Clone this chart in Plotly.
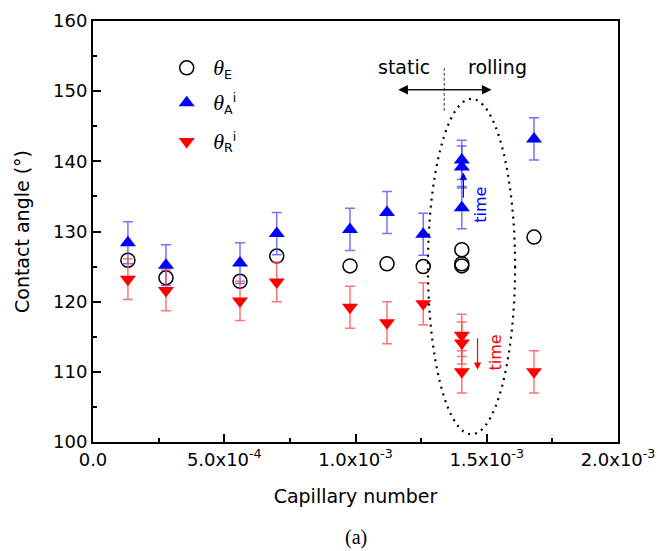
import plotly.graph_objects as go

# ---- data ----
ca_E = [1.33e-4, 2.78e-4, 5.6e-4, 7.0e-4, 9.79e-4, 1.12e-3, 1.258e-3, 1.405e-3, 1.405e-3, 1.405e-3, 1.68e-3]
theta_E = [125.9, 123.4, 122.9, 126.5, 125.1, 125.4, 125.0, 127.4, 125.4, 125.1, 129.2]

ca_A = [1.33e-4, 2.78e-4, 5.6e-4, 7.0e-4, 9.79e-4, 1.12e-3, 1.258e-3, 1.405e-3, 1.405e-3, 1.405e-3, 1.68e-3]
theta_A = [128.4, 125.2, 125.5, 129.7, 130.3, 132.7, 129.6, 140.2, 139.2, 133.4, 143.2]
err_A = [3.0, 2.9, 2.9, 3.0, 3.0, 3.0, 3.0, 2.8, 3.0, 3.0, 3.0]

ca_R = [1.33e-4, 2.78e-4, 5.6e-4, 7.0e-4, 9.79e-4, 1.12e-3, 1.258e-3, 1.405e-3, 1.405e-3, 1.405e-3, 1.68e-3]
theta_R = [123.2, 121.6, 120.1, 122.8, 119.2, 117.0, 119.7, 115.2, 114.1, 110.0, 110.0]
err_R = [2.9, 2.9, 2.8, 2.8, 3.0, 3.0, 3.0, 3.0, 3.0, 3.0, 3.0]

x_tickvals = [0, 5e-4, 1e-3, 1.5e-3, 2e-3]
x_ticktext = ["0.0", "5.0x10<sup>-4</sup>", "1.0x10<sup>-3</sup>", "1.5x10<sup>-3</sup>", "2.0x10<sup>-3</sup>"]
y_tickvals = [100, 110, 120, 130, 140, 150, 160]

# annotation geometry (data units)
ellipse = dict(x0=1.276e-3, x1=1.608e-3, y0=101.1, y1=148.9)
divider_x = 1.338e-3
divider_y = [147.2, 153.3]
arrow_y = 150.2
arrow_left, arrow_right = 1.163e-3, 1.518e-3

FONT = "DejaVu Sans"
SERIF = "Liberation Serif"

def th(sub, sup=""):
    s = "<span style='font-family:Liberation Serif;font-size:22px'><i>θ</i></span><sub>%s</sub>" % sub
    if sup:
        s += "<sup>%s</sup>" % sup
    return s

fig = go.Figure()

fig.add_trace(go.Scatter(
    x=ca_E, y=theta_E, mode="markers", name=th("E"), legend="legend",
    marker=dict(symbol="circle-open", size=14, color="black", line=dict(width=1.5, color="black")),
))
fig.add_trace(go.Scatter(
    x=ca_A, y=theta_A, mode="markers", name=th("A", "i"), legend="legend2",
    marker=dict(symbol="triangle-up", size=14, color="#0000ff"),
    error_y=dict(type="data", array=err_A, color="rgba(70,70,255,0.75)", thickness=1.5, width=5),
))
fig.add_trace(go.Scatter(
    x=ca_R, y=theta_R, mode="markers", name=th("R", "i"), legend="legend3",
    marker=dict(symbol="triangle-down", size=14, color="#ff0000"),
    error_y=dict(type="data", array=err_R, color="rgba(255,70,70,0.75)", thickness=1.5, width=5),
))

# dotted ellipse
fig.add_shape(type="circle", xref="x", yref="y", line=dict(color="black", width=2.2, dash="2px,5px"), **ellipse)
# dashed divider
fig.add_shape(type="line", xref="x", yref="y", x0=divider_x, x1=divider_x, y0=divider_y[0], y1=divider_y[1],
              line=dict(color="#333", width=1, dash="3px,2px"))
# double arrow
fig.add_annotation(x=arrow_left, y=arrow_y, ax=arrow_right, ay=arrow_y, xref="x", yref="y", axref="x", ayref="y",
                   text="", showarrow=True, arrowhead=2, arrowsize=1.6, arrowwidth=1.2, arrowcolor="black")
fig.add_annotation(x=arrow_right, y=arrow_y, ax=arrow_left, ay=arrow_y, xref="x", yref="y", axref="x", ayref="y",
                   text="", showarrow=True, arrowhead=2, arrowsize=1.6, arrowwidth=1.2, arrowcolor="black")
fig.add_annotation(x=1.186e-3, y=153.4, xref="x", yref="y", text="static", showarrow=False,
                   font=dict(family=FONT, size=19, color="black"))
fig.add_annotation(x=1.542e-3, y=153.4, xref="x", yref="y", text="rolling", showarrow=False,
                   font=dict(family=FONT, size=19, color="black"))

# time arrows
fig.add_annotation(x=1.411e-3, y=138.4, ax=1.411e-3, ay=134.6, xref="x", yref="y", axref="x", ayref="y",
                   text="", showarrow=True, arrowhead=2, arrowsize=1.2, arrowwidth=1.2, arrowcolor="#0000ff")
fig.add_annotation(x=1.478e-3, y=133.8, xref="x", yref="y", text="time", textangle=-90, showarrow=False,
                   font=dict(family=FONT, size=16, color="#0000ff"))
fig.add_annotation(x=1.465e-3, y=110.3, ax=1.465e-3, ay=115.0, xref="x", yref="y", axref="x", ayref="y",
                   text="", showarrow=True, arrowhead=2, arrowsize=1.2, arrowwidth=1.2, arrowcolor="#ff0000")
fig.add_annotation(x=1.534e-3, y=112.7, xref="x", yref="y", text="time", textangle=-90, showarrow=False,
                   font=dict(family=FONT, size=16, color="#ff0000"))

# caption
fig.add_annotation(x=0.5, y=-0.227, xref="paper", yref="paper", text="(a)", showarrow=False,
                   xanchor="center", yanchor="middle", font=dict(family=SERIF, size=20, color="black"))

fig.update_xaxes(
    range=[0, 2e-3], tickvals=x_tickvals, ticktext=x_ticktext, automargin=False,
    ticks="inside", ticklen=8, tickwidth=1.5, tickcolor="black",
    minor=dict(ticks="inside", ticklen=4, tickwidth=1.5, tickcolor="black", dtick=2.5e-4, tick0=0),
    showline=True, linewidth=2, linecolor="black", mirror=True,
    showgrid=False, zeroline=False,
    tickfont=dict(family=FONT, size=18, color="black"),
    title=dict(text="Capillary number", font=dict(family=FONT, size=19, color="black"), standoff=21),
)
fig.update_yaxes(
    range=[100, 160], tickvals=y_tickvals, automargin=False,
    ticks="inside", ticklen=8, tickwidth=1.5, tickcolor="black",
    minor=dict(ticks="inside", ticklen=4, tickwidth=1.5, tickcolor="black", dtick=5, tick0=100),
    showline=True, linewidth=2, linecolor="black", mirror=True,
    showgrid=False, zeroline=False,
    tickfont=dict(family=FONT, size=18, color="black"),
    title=dict(text="Contact angle (°)", font=dict(family=FONT, size=19, color="black"), standoff=18),
)

leg_common = dict(xanchor="left", yanchor="middle", bgcolor="rgba(0,0,0,0)", itemwidth=43,
                  font=dict(family=FONT, size=18, color="black"))
fig.update_layout(
    width=658, height=551,
    margin=dict(l=93, r=40, t=21, b=109, autoexpand=False),
    plot_bgcolor="white", paper_bgcolor="white",
    showlegend=True,
    legend=dict(x=0.128, y=0.888, **leg_common),
    legend2=dict(x=0.128, y=0.805, **leg_common),
    legend3=dict(x=0.128, y=0.713, **leg_common),
)

fig.write_html("out.html")
